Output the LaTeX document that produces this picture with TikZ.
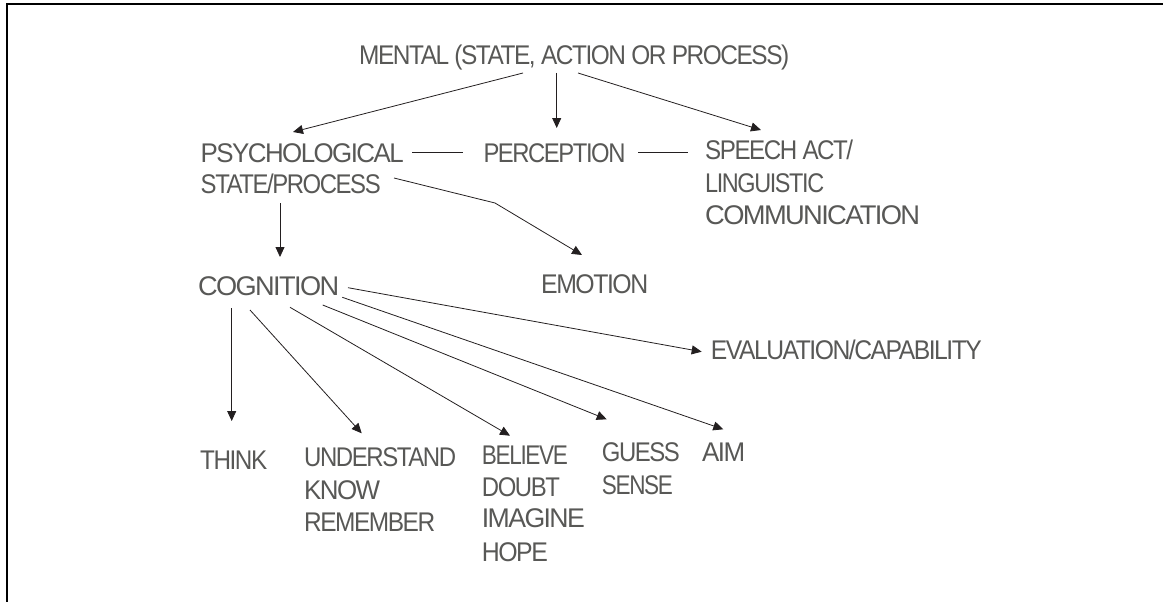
\documentclass[tikz,border=0pt]{standalone}
\usepackage{fontspec}
\setmainfont{Liberation Sans}[LetterSpace=-6]
\usepackage{graphicx}
\usetikzlibrary{arrows.meta,calc}
\definecolor{txtgray}{RGB}{88,88,86}
\definecolor{linec}{RGB}{35,31,32}
\newcommand\fitw[2]{\resizebox{#1pt}{\height}{#2}}
\tikzset{
  lbl/.style={anchor=base west,inner sep=0pt,text=txtgray,font=\fontsize{27}{32}\selectfont},
  conn/.style={draw=linec,line width=0.8pt},
  arr/.style={conn,-{Triangle[length=10pt,width=9pt]}},
  frame/.style={draw=black,line width=2.2pt}
}
\begin{document}
\begin{tikzpicture}[x=1pt,y=-1pt]
\useasboundingbox (0,0) rectangle (1165,602);
\draw[frame] (7,603) -- (7,4) -- (1163,4);

\node[lbl] (mental) at (359,65) {\fitw{430}{MENTAL (STATE, ACTION OR PROCESS)}};
\node[lbl] (psych) at (200.5,162.7) {\fitw{203}{PSYCHOLOGICAL}};
\node[lbl] (psych2) at (200.5,193.3) {\fitw{180}{STATE/PROCESS}};
\node[lbl] (perc) at (483.3,162.7) {\fitw{142}{PERCEPTION}};
\node[lbl] (speech) at (705,159.5) {\fitw{148}{SPEECH ACT/}};
\node[lbl] (speech2) at (705,192.5) {\fitw{119}{LINGUISTIC}};
\node[lbl] (speech3) at (705,224) {\fitw{215}{COMMUNICATION}};
\node[lbl] (cog) at (198,295) {\fitw{141}{COGNITION}};
\node[lbl] (emo) at (541,293) {\fitw{107}{EMOTION}};
\node[lbl] (eval) at (710.7,359.3) {\fitw{271}{EVALUATION/CAPABILITY}};
\node[lbl] (think) at (200,469.3) {\fitw{67}{THINK}};
\node[lbl] (und) at (304,466.7) {\fitw{152}{UNDERSTAND}};
\node[lbl] (know) at (304,499) {\fitw{76}{KNOW}};
\node[lbl] (rem) at (304,531.7) {\fitw{131}{REMEMBER}};
\node[lbl] (bel) at (481.7,464.3) {\fitw{86}{BELIEVE}};
\node[lbl] (doubt) at (481.7,496) {\fitw{78}{DOUBT}};
\node[lbl] (imag) at (481.7,527.7) {\fitw{103}{IMAGINE}};
\node[lbl] (hope) at (481.7,561) {\fitw{66}{HOPE}};
\node[lbl] (guess) at (601.7,461.7) {\fitw{78}{GUESS}};
\node[lbl] (sense) at (601.7,494.3) {\fitw{71}{SENSE}};
\node[lbl] (aim) at (702,461.7) {\fitw{43}{AIM}};

\coordinate (bend) at (495,203);

% from MENTAL
\draw[arr] ($(mental.base west)+(164,8)$) -- ($(psych.base west)+(92.5,-30.7)$);
\draw[arr] ($(mental.base west)+(197.7,8)$) -- ($(perc.base west)+(73.4,-34.7)$);
\draw[arr] ($(mental.base west)+(219,8)$) -- ($(speech.base west)+(56,-29.5)$);
% horizontal links
\draw[conn] ($(psych.base west)+(211.5,-10.7)$) -- ($(perc.base west)+(-20.3,-10.7)$);
\draw[conn] ($(perc.base west)+(154.7,-10)$) -- ($(speech.base west)+(-17,-6.8)$);
% from PSYCHOLOGICAL
\draw[arr] ($(psych2.base west)+(79.5,9.7)$) -- ($(cog.base west)+(82,-38)$);
\draw[arr] ($(psych2.base west)+(193.5,-15.3)$) -- (bend) -- ($(emo.base west)+(41,-38)$);
% from COGNITION
\draw[arr] ($(cog.base west)+(33.7,13)$) -- ($(think.base west)+(31.7,-48.3)$);
\draw[arr] ($(cog.base west)+(52,15)$) -- ($(und.base west)+(57.7,-33.4)$);
\draw[arr] ($(cog.base west)+(92,12.3)$) -- ($(bel.base west)+(28.3,-28.6)$);
\draw[arr] ($(cog.base west)+(124.7,10)$) -- ($(guess.base west)+(5,-42.4)$);
\draw[arr] ($(cog.base west)+(144.3,2.3)$) -- ($(aim.base west)+(21.3,-32.4)$);
\draw[arr] ($(cog.base west)+(150,-7.3)$) -- ($(eval.base west)+(-9,-7.6)$);
\end{tikzpicture}
\end{document}
